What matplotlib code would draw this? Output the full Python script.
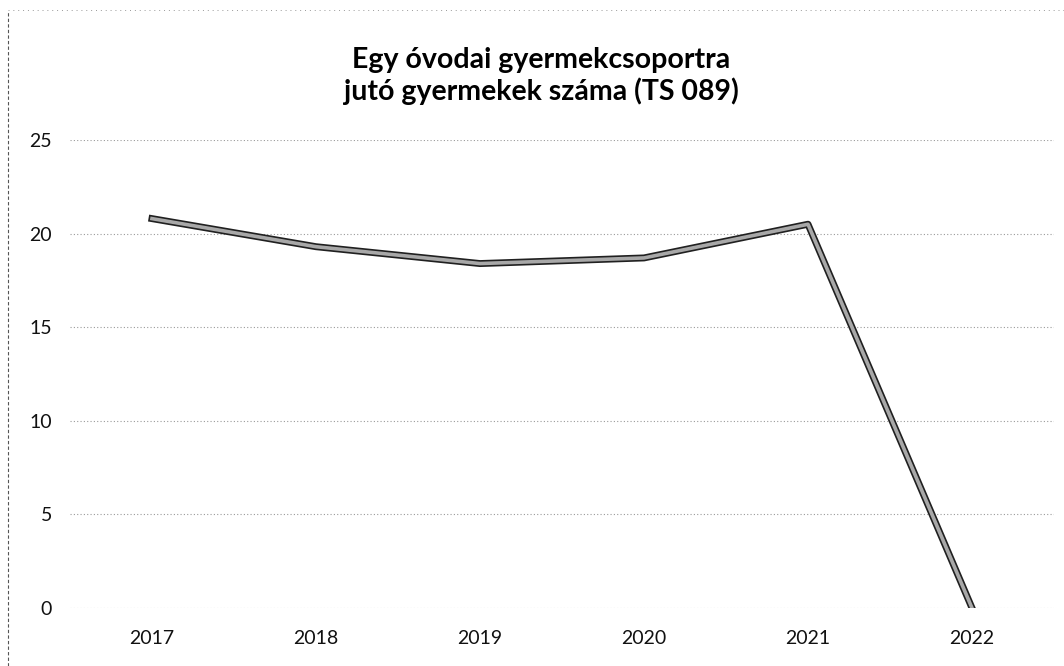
import numpy as np
import matplotlib.pyplot as plt
import matplotlib.patheffects as pe
from matplotlib.lines import Line2D

years = ["2017", "2018", "2019", "2020", "2021", "2022"]
values = [20.8, 19.3, 18.4, 18.7, 20.5, 0.0]
yticks = [0, 5, 10, 15, 20, 25]

plt.rcParams['font.family'] = ['Lato', 'DejaVu Sans']

fig = plt.figure(figsize=(10.64, 6.66), dpi=100)
ax = fig.add_axes([70/1064, 1 - 608/666, 984/1064, 468/666])

x = np.arange(len(years))
ax.plot(x, values, color="#a8a8a8", lw=2.6,
        path_effects=[pe.Stroke(linewidth=5, foreground="#202020"), pe.Normal()])

ax.set_xlim(-0.5, len(years) - 0.5)
ax.set_ylim(0, 25)
ax.set_xticks(x, years)
ax.set_yticks(yticks)
ax.tick_params(length=0, labelsize=14, colors="#111111")
ax.tick_params(axis="x", pad=16)
ax.tick_params(axis="y", pad=13)
for s in ax.spines.values():
    s.set_visible(False)
ax.grid(axis="y", color="#9a9a9a", lw=0.8, ls=(0, (1, 2)))
ax.set_axisbelow(True)

fig.text(541/1064, 1 - 76/666, "Egy óvodai gyermekcsoportra\njutó gyermekek száma (TS 089)",
         ha="center", va="center", fontsize=20.5, fontweight="bold", linespacing=1.2)

# scanned chart frame
fig.add_artist(Line2D([8/1064, 8/1064], [0, 1 - 12/666], transform=fig.transFigure,
                      color="#555555", lw=0.8, ls=(0, (3, 2))))
fig.add_artist(Line2D([8/1064, 1], [1 - 10/666, 1 - 10/666], transform=fig.transFigure,
                      color="#999999", lw=0.7, ls=(0, (1, 4))))

plt.savefig("out.png", dpi=100)
